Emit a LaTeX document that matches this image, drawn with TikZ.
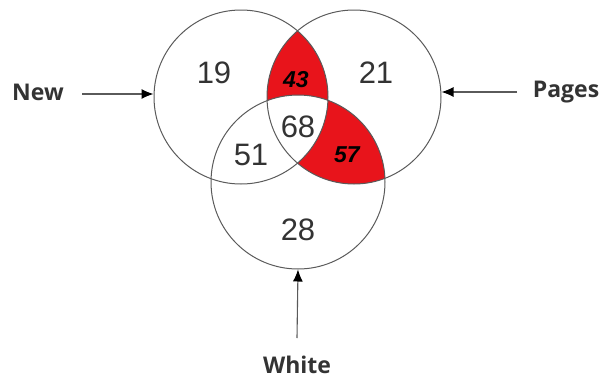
\documentclass[tikz,border=0pt]{standalone}
\usepackage{fontspec}
\setmainfont{Liberation Sans}
\newfontfamily\labelfont{Open Sans}
\usetikzlibrary{arrows.meta}
\definecolor{circgray}{HTML}{5A5A5A}
\definecolor{txtgray}{HTML}{333333}
\definecolor{vennred}{HTML}{E8141B}
\tikzset{
  setcircle/.style={draw=circgray, line width=1pt},
  num/.style={font=\fontsize{31}{31}\selectfont, text=txtgray, inner sep=0pt},
  rednum/.style={font=\fontsize{23}{23}\selectfont\bfseries\itshape, text=black, inner sep=0pt},
  setlabel/.style={font=\labelfont\fontsize{23}{23}\selectfont\bfseries, text=txtgray, inner sep=0pt},
  pointer/.style={draw=circgray, line width=1.1pt, -{Latex[length=12pt,width=10pt,black]}}
}
\begin{document}
\begin{tikzpicture}[x=1pt,y=-1pt]
\useasboundingbox (0,0) rectangle (606,381);
\def\R{87}
% red regions
\begin{scope}
  \clip (241,97) circle (\R);
  \clip (354,97) circle (\R);
  \fill[vennred, even odd rule] (0,0) rectangle (606,381) (298,182) circle (\R);
\end{scope}
\begin{scope}
  \clip (354,97) circle (\R);
  \clip (298,182) circle (\R);
  \fill[vennred, even odd rule] (0,0) rectangle (606,381) (241,97) circle (\R);
\end{scope}
% circles
\node[setcircle, circle, minimum size=174pt, inner sep=0pt] (new) at (241,97) {};
\node[setcircle, circle, minimum size=174pt, inner sep=0pt] (pages) at (354,97) {};
\node[setcircle, circle, minimum size=174pt, inner sep=0pt] (white) at (298,182) {};
% numbers
\node[num] (n19) at (214,73) {19};
\node[num] (n21) at (376,73) {21};
\node[rednum] (n43) at (296,80) {43};
\node[num] (n68) at (298,127) {68};
\node[num] (n51) at (251,155) {51};
\node[rednum] (n57) at (347,155) {57};
\node[num] (n28) at (298,230) {28};
% labels
\node[setlabel] (lnew) at (38,92) {New};
\node[setlabel] (lpages) at (566,92) {Pages};
\node[setlabel] (lwhite) at (297,365) {White};
% arrows
\coordinate (anew) at (82,94);
\coordinate (apages) at (517,92);
\coordinate (awhite) at (297,338);
\draw[pointer] (anew) -- (new.west |- anew);
\draw[pointer] (apages) -- (pages.east |- apages);
\draw[pointer] (awhite) -- (white.south);
\end{tikzpicture}
\end{document}
